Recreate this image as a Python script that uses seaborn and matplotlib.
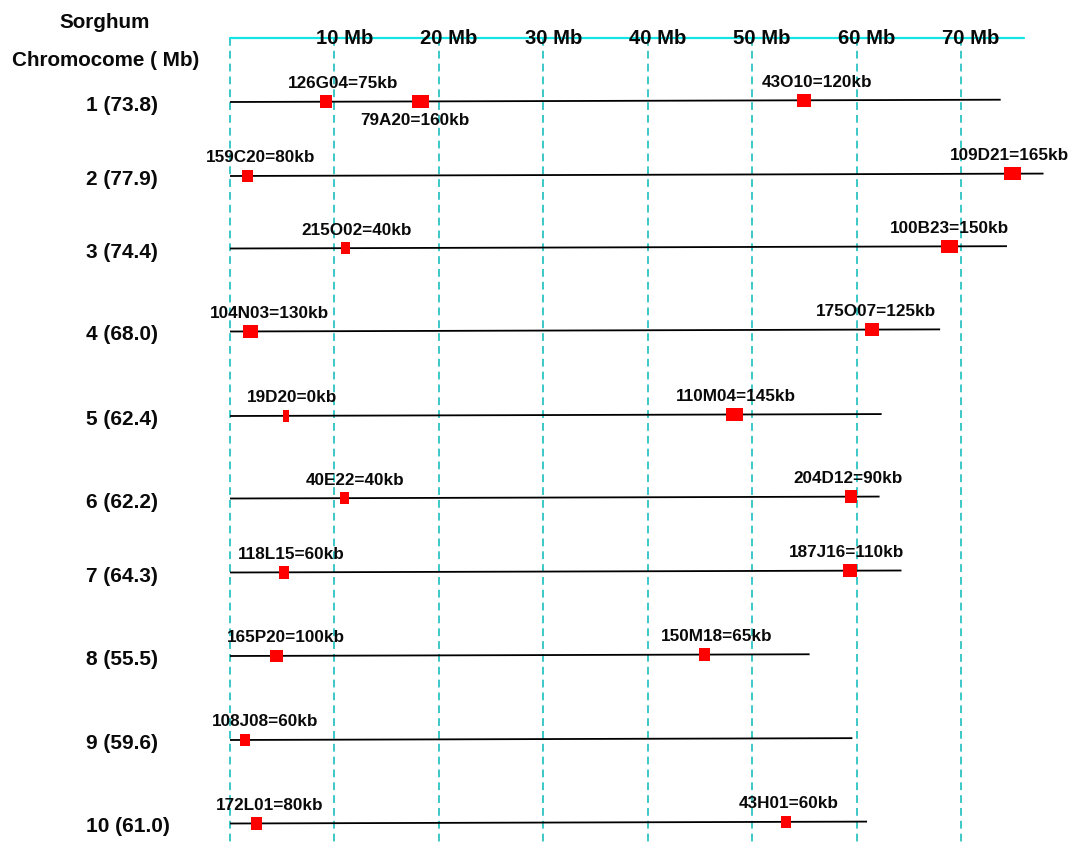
import matplotlib
matplotlib.use("Agg")
import matplotlib.pyplot as plt
import seaborn as sns

# ---- data -------------------------------------------------------------
chromosomes = ["1", "2", "3", "4", "5", "6", "7", "8", "9", "10"]
chrom_lengths = [73.8, 77.9, 74.4, 68.0, 62.4, 62.2, 64.3, 55.5, 59.6, 61.0]

clone_chrom = [1, 1, 1, 2, 2, 3, 3, 4, 4, 5, 5, 6, 6, 7, 7, 8, 8, 9, 10, 10]
clone_names = ["126G04", "79A20", "43O10", "159C20", "109D21", "215O02",
               "100B23", "104N03", "175O07", "19D20", "110M04", "40E22",
               "204D12", "118L15", "187J16", "165P20", "150M18", "108J08",
               "172L01", "43H01"]
clone_kb = [75, 160, 120, 80, 165, 40, 150, 130, 125, 0, 145, 40, 90, 60,
            110, 100, 65, 60, 80, 60]
clone_mb = [9.19, 18.27, 54.96, 1.68, 74.93, 11.08, 68.92, 1.96, 61.48,
            5.39, 48.31, 10.99, 59.47, 5.17, 59.37, 4.47, 45.42, 1.41,
            2.52, 53.27]

scale_ticks = [10, 20, 30, 40, 50, 60, 70]

# ---- layout -----------------------------------------------------------
W_PX, H_PX = 1071, 846
ORIGIN_PX = 230.0          # pixel column of 0 Mb
PX_PER_MB = 10.443
SCALE_END = 76.0           # right end of the top ruler (Mb)
RULER_Y = 38.3
row_y = [102, 176, 248.5, 331.5, 416, 498.5, 572.5, 656, 740, 823.5]
TILT = 0.031               # chromosome lines rise slightly to the right
label_dx = [17, -6, 13, 13.5, -3.5, 11, 0, 18.5, 4, 5.7, 1.5, 10, -3, 7,
            -4, 9.3, 12.7, 20.3, 13.7, 2.7]
label_below = [n == "79A20" for n in clone_names]

CYAN_GRID = "#3CC8C8"
CYAN_RULER = "#14E4E4"
RED = "#FF0000"
INK = "#0A0A0A"


def px2mb(px):
    return (px - ORIGIN_PX) / PX_PER_MB


def y_on(row, x_mb):
    return row_y[row] - TILT * x_mb


sns.set_theme(style="white")
plt.rcParams["font.family"] = ["Liberation Sans", "DejaVu Sans"]

fig = plt.figure(figsize=(W_PX / 100, H_PX / 100), dpi=100)
ax = fig.add_axes([0, 0, 1, 1])
ax.set_xlim(px2mb(0), px2mb(W_PX))
ax.set_ylim(H_PX, 0)
ax.axis("off")

# dashed guide lines every 10 Mb
for g in [0] + scale_ticks:
    ax.plot([g, g], [RULER_Y, H_PX], color=CYAN_GRID, lw=1.4,
            linestyle=(0, (4.0, 2.6)), zorder=1, solid_capstyle="butt")

# top ruler
ax.plot([0, SCALE_END], [RULER_Y, RULER_Y], color=CYAN_RULER, lw=1.6, zorder=2)
for t in scale_ticks:
    ax.annotate(f"{t} Mb", xy=(t, 44), xytext=(10, 0),
                textcoords="offset pixels", ha="center", va="baseline",
                fontsize=14.6, fontweight="bold", color=INK, zorder=5)

# headers
ax.text(px2mb(105), 28.3, "Sorghum", ha="center", va="baseline",
        fontsize=14.9, fontweight="bold", color=INK)
ax.text(px2mb(106), 66, "Chromocome ( Mb)", ha="center", va="baseline",
        fontsize=14.9, fontweight="bold", color=INK)

# chromosome lines and their labels
for i, (name, length) in enumerate(zip(chromosomes, chrom_lengths)):
    ax.plot([0, length], [y_on(i, 0), y_on(i, length)], color="black",
            lw=1.3, zorder=3, solid_capstyle="butt")
    ax.text(px2mb(86), row_y[i] + 9, f"{name} ({length:.1f})", ha="left",
            va="baseline", fontsize=15, fontweight="bold", color=INK)

# BAC clones: width grows with insert size
for k, (c, name, kb, pos) in enumerate(zip(clone_chrom, clone_names,
                                           clone_kb, clone_mb)):
    row = c - 1
    w_mb = (6 + 0.07 * kb) / PX_PER_MB
    yc = y_on(row, pos)
    ax.barh(yc, w_mb, left=pos - w_mb / 2, height=12.5, color=RED,
            edgecolor="none", zorder=4)
    dy = 23.5 if label_below[k] else -13.6
    ax.annotate(f"{name}={kb}kb", xy=(pos, yc + dy), xytext=(label_dx[k], 0),
                textcoords="offset pixels", ha="center", va="baseline",
                fontsize=12.3, fontweight="bold", color=INK, zorder=5)

fig.savefig("out.png", dpi=100)
